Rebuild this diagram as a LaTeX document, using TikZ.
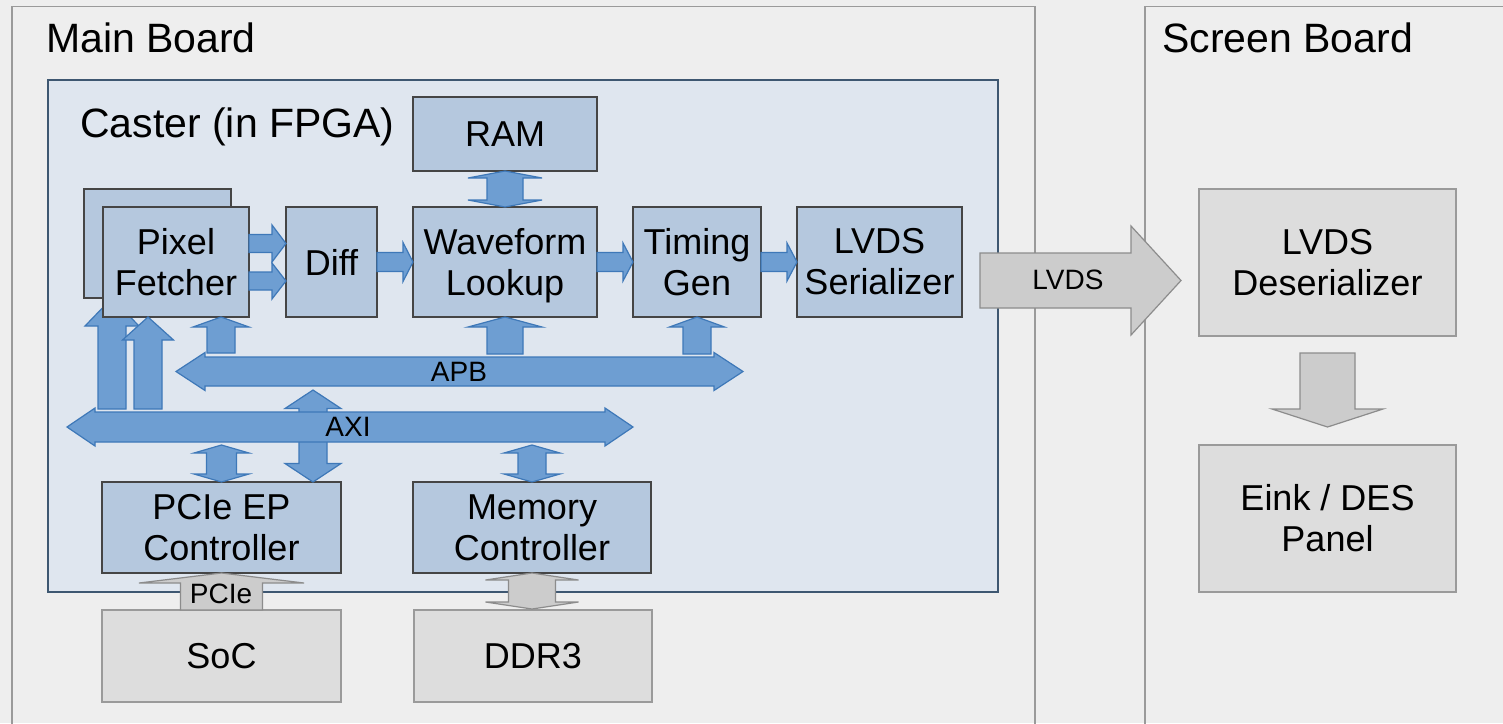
\documentclass[tikz,border=0pt]{standalone}
\usepackage{fontspec}
\setmainfont{Liberation Sans}
\usetikzlibrary{calc}
\definecolor{bg}{HTML}{EEEEEE}
\definecolor{boardline}{HTML}{9A9A9A}
\definecolor{casterfill}{HTML}{DFE6EF}
\definecolor{casterline}{HTML}{3E5771}
\definecolor{blkfill}{HTML}{B5C8DE}
\definecolor{blkline}{HTML}{454545}
\definecolor{barfill}{HTML}{6E9ED2}
\definecolor{barline}{HTML}{3E78B8}
\definecolor{gfill}{HTML}{DDDDDD}
\definecolor{gline}{HTML}{9A9A9A}
\definecolor{garfill}{HTML}{CCCCCC}
\definecolor{garline}{HTML}{8C8C8C}
\newcommand\titlefont{\fontsize{41}{47}\selectfont}
\newcommand\blkfont{\fontsize{36}{41}\selectfont}
\newcommand\lblfont{\fontsize{28}{32}\selectfont}
\tikzset{
  board/.style={draw=boardline, line width=1.5pt, rectangle, inner sep=0pt, outer sep=0pt, anchor=north west},
  caster/.style={draw=casterline, fill=casterfill, line width=1.5pt, rectangle, inner sep=0pt, outer sep=0pt, anchor=north west},
  blk/.style={draw=blkline, fill=blkfill, line width=1.5pt, rectangle, inner sep=0pt, outer sep=0pt, align=center, font=\blkfont, anchor=north west},
  gbox/.style={draw=gline, fill=gfill, line width=1.5pt, rectangle, inner sep=0pt, outer sep=0pt, align=center, font=\blkfont, anchor=north west},
  barrow/.style={draw=barline, fill=barfill, line width=1.2pt, line join=miter},
  garrow/.style={draw=garline, fill=garfill, line width=1.2pt, line join=miter},
  title/.style={font=\titlefont, anchor=base west, inner sep=0pt},
  lbl/.style={font=\lblfont, inner sep=0pt},
}
% horizontal single arrow: style, from, to, shaft half, head half, head length
\newcommand\hsingle[6]{%
  \draw[#1] let \p1=(#2),\p2=(#3),\n1={sign(\x2-\x1)} in
  (\x1,{\y1+#4pt}) -- ({\x2-(\n1)*#6pt},{\y1+#4pt}) -- ({\x2-(\n1)*#6pt},{\y1+#5pt}) -- (\x2,\y1)
  -- ({\x2-(\n1)*#6pt},{\y1-#5pt}) -- ({\x2-(\n1)*#6pt},{\y1-#4pt}) -- (\x1,{\y1-#4pt}) -- cycle;}
\newcommand\hdouble[6]{%
  \draw[#1] let \p1=(#2),\p2=(#3),\n1={sign(\x2-\x1)} in
  (\x1,\y1) -- ({\x1+(\n1)*#6pt},{\y1+#5pt}) -- ({\x1+(\n1)*#6pt},{\y1+#4pt}) -- ({\x2-(\n1)*#6pt},{\y1+#4pt})
  -- ({\x2-(\n1)*#6pt},{\y1+#5pt}) -- (\x2,\y1) -- ({\x2-(\n1)*#6pt},{\y1-#5pt}) -- ({\x2-(\n1)*#6pt},{\y1-#4pt})
  -- ({\x1+(\n1)*#6pt},{\y1-#4pt}) -- ({\x1+(\n1)*#6pt},{\y1-#5pt}) -- cycle;}
\newcommand\vsingle[6]{%
  \draw[#1] let \p1=(#2),\p2=(#3),\n1={sign(\y2-\y1)} in
  ({\x1-#4pt},\y1) -- ({\x1-#4pt},{\y2-(\n1)*#6pt}) -- ({\x1-#5pt},{\y2-(\n1)*#6pt}) -- (\x1,\y2)
  -- ({\x1+#5pt},{\y2-(\n1)*#6pt}) -- ({\x1+#4pt},{\y2-(\n1)*#6pt}) -- ({\x1+#4pt},\y1) -- cycle;}
\newcommand\vdouble[6]{%
  \draw[#1] let \p1=(#2),\p2=(#3),\n1={sign(\y2-\y1)} in
  (\x1,\y1) -- ({\x1+#5pt},{\y1+(\n1)*#6pt}) -- ({\x1+#4pt},{\y1+(\n1)*#6pt}) -- ({\x1+#4pt},{\y2-(\n1)*#6pt})
  -- ({\x1+#5pt},{\y2-(\n1)*#6pt}) -- (\x1,\y2) -- ({\x1-#5pt},{\y2-(\n1)*#6pt}) -- ({\x1-#4pt},{\y2-(\n1)*#6pt})
  -- ({\x1-#4pt},{\y1+(\n1)*#6pt}) -- ({\x1-#5pt},{\y1+(\n1)*#6pt}) -- cycle;}
\begin{document}
\begin{tikzpicture}[x=1pt,y=-1pt]
\useasboundingbox (0,0) rectangle (1503,723);
\fill[bg] (0,0) rectangle (1503,723);
% boards
\node[board, minimum width=1023, minimum height=760] (mainb) at (12,6.5) {};
\node[board, minimum width=420, minimum height=760] (screenb) at (1145,6.5) {};
\node[title] (mainlbl) at (46,52) {Main Board};
\node[title] (screenlbl) at (1162,52) {Screen Board};
% caster
\node[caster, minimum width=950, minimum height=512] (caster) at (48,80) {};
\node[title] (casterlbl) at (80,137) {Caster (in FPGA)};
% pixel fetcher (stacked)
\node[blk, minimum width=147, minimum height=109] (pfback) at (84,189) {};
\vsingle{barrow}{$(pfback.south west)+(28,111)$}{$(pfback.south west)+(28,0)$}{14}{27}{28}
\node[blk, minimum width=146, minimum height=110] (pf) at (103,207) {Pixel\\Fetcher};
\node[blk, minimum width=91, minimum height=110] (diff) at (286,207) {Diff};
\node[blk, minimum width=184, minimum height=74] (ram) at (413,97) {RAM};
\node[blk, minimum width=184, minimum height=110] (wave) at (413,207) {Waveform\\Looku\smash{p}};
\node[blk, minimum width=128, minimum height=110] (tim) at (633,207) {Timing\\Gen};
\node[blk, minimum width=165, minimum height=110] (ser) at (797,207) {LVDS\\Serializer};
\node[blk, minimum width=239, minimum height=91] (pcie) at (102,482) {PCIe EP\\Controller};
\node[blk, minimum width=238, minimum height=91] (mem) at (413,482) {Memory\\Controller};
\node[gbox, minimum width=239, minimum height=92] (soc) at (102,610) {SoC};
\node[gbox, minimum width=238, minimum height=92] (ddr) at (414,610) {DDR3};
\node[gbox, minimum width=257, minimum height=147] (deser) at (1199,189) {LVDS\\Deserializer};
\node[gbox, minimum width=257, minimum height=147] (eink) at (1199,445) {Eink / DES\\Panel};
% bus end points
\coordinate (apbL) at (176,371.5);
\coordinate (apbR) at (743,371.5);
\coordinate (axiL) at (67,427);
\coordinate (axiR) at (633,427);
% data path arrows
\hsingle{barrow}{$(pf.north east)+(0,36.5)$}{$(diff.north west)+(0,36.5)$}{9}{18.5}{14}
\hsingle{barrow}{$(pf.north east)+(0,74)$}{$(diff.north west)+(0,74)$}{9}{18}{14}
\hsingle{barrow}{diff.east}{wave.west}{9.5}{19.5}{10}
\hsingle{barrow}{wave.east}{tim.west}{9.5}{19}{10}
\hsingle{barrow}{tim.east}{ser.west}{9.5}{19}{10}
\vdouble{barrow}{ram.south}{wave.north}{18}{37}{7}
% APB
\vsingle{barrow}{$(pf.south east)+(-28,36)$}{$(pf.south east)+(-28,0)$}{14}{28}{10}
\vsingle{barrow}{$(wave.south)+(0,37)$}{wave.south}{18}{37}{10}
\vsingle{barrow}{$(tim.south)+(0,37)$}{tim.south}{14}{27.5}{10}
\hdouble{barrow}{apbL}{apbR}{14.5}{19}{29}
% AXI
\vsingle{barrow}{$(pf.south west)+(45,92)$}{$(pf.south west)+(45,0)$}{14}{25.5}{23}
\vdouble{barrow}{$(pcie.north east)+(-28,-92)$}{$(pcie.north east)+(-28,0)$}{14}{28}{18.5}
\hdouble{barrow}{axiL}{axiR}{15}{19}{28}
\vdouble{barrow}{$(pcie.north)+(0,-37)$}{pcie.north}{15}{27.5}{8}
\vdouble{barrow}{$(mem.north)+(0,-37)$}{mem.north}{14}{28}{8}
\node[lbl] (apblbl) at (459,372) {APB};
\node[lbl] (axilbl) at (348,427) {AXI};
% external arrows
\vsingle{garrow}{soc.north}{pcie.south}{41}{82.5}{10}
\node[lbl] (pcielbl) at (221,594) {PCIe};
\vdouble{garrow}{mem.south}{$(mem.south)+(0,36)$}{23.5}{46.5}{7}
\hsingle{garrow}{$(ser.east)+(18,18.5)$}{$(deser.west)+(-18,18)$}{27.5}{54.5}{50}
\node[lbl] (lvdslbl) at (1068,280) {LVDS};
\vsingle{garrow}{$(deser.south)+(0,17)$}{$(eink.north)+(0,-18)$}{27.5}{55.5}{18}
\end{tikzpicture}
\end{document}
